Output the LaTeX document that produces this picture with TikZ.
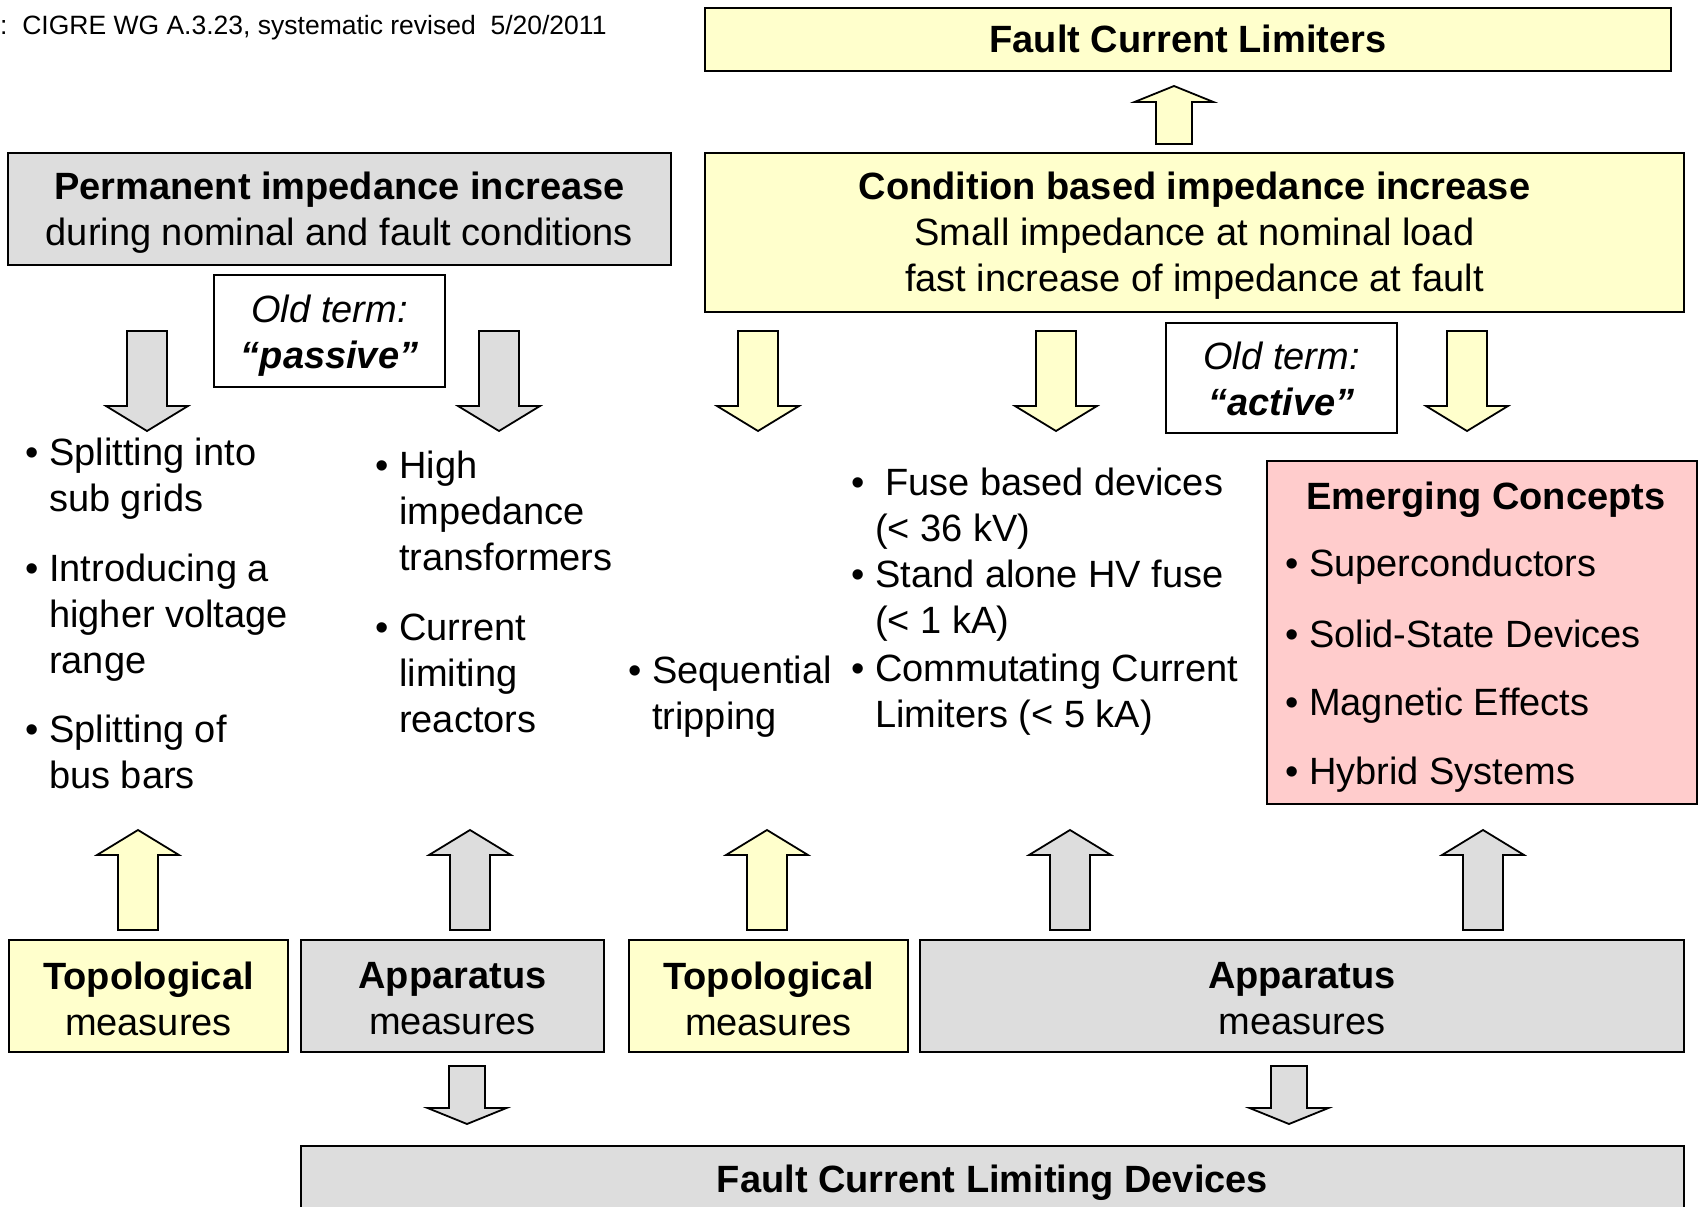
\documentclass[tikz,border=0pt]{standalone}
\usepackage{fontspec}
\setmainfont{Liberation Sans}
\usepackage{xcolor}

\definecolor{boxgray}{HTML}{DDDDDD}
\definecolor{boxyellow}{HTML}{FFFFCC}
\definecolor{boxpink}{HTML}{FFCCCC}

% bullet hanging into the left margin, and the matching indent
\newcommand{\bl}{\makebox[0pt]{•}\hspace*{17pt}}
\newcommand{\ind}{\hspace*{17pt}}

% fat block arrow: fill, x, start y, tip y, half shaft, half head, head length
\newcommand{\blockarrow}[7]{%
  \filldraw[arrowline, fill=#1] (#2-#5,#3) -- (#2+#5,#3) -- (#2+#5,{#4-(#7)})
    -- (#2+#6,{#4-(#7)}) -- (#2,#4) -- (#2-#6,{#4-(#7)}) -- (#2-#5,{#4-(#7)}) -- cycle;}

\tikzset{
  box/.style={draw=black, line width=1.8pt, inner sep=0pt},
  graybox/.style={box, fill=boxgray},
  yelbox/.style={box, fill=boxyellow},
  pinkbox/.style={box, fill=boxpink},
  termbox/.style={box, fill=white},
  boxtext/.style={inner sep=0pt, align=center},
  item/.style={anchor=west, inner sep=0pt, align=left},
  arrowline/.style={draw=black, line width=1.8pt}
}

\begin{document}
\begin{tikzpicture}[x=1pt, y=-1pt, font=\fontsize{38}{46}\selectfont]
    \useasboundingbox (0,0) rectangle (1698,1207);
    \clip (0,0) rectangle (1698,1207);

    \node[anchor=west, inner sep=0pt, font=\fontsize{26.5}{30}\selectfont] (src) at (0,28)
        {:\ \ CIGRE WG A.3.23, systematic revised\ \ 5/20/2011};

    % upper row
    \node[yelbox, minimum width=966pt, minimum height=63pt] (fcl) at (1188,39.5) {};
    \node[boxtext] (fcltext) at ([yshift=1pt]fcl.center) {\textbf{Fault Current Limiters}};
    \node[yelbox, minimum width=979pt, minimum height=159pt] (cond) at (1194.5,232.5) {};
    \node[boxtext] (condtext) at ([yshift=-3pt]cond.center)
        {\textbf{Condition based impedance increase}\\ Small impedance at nominal load\\ fast increase of impedance at fault};
    \node[graybox, minimum width=663pt, minimum height=112pt] (perm) at (339.5,209) {};
    \node[boxtext] (permtext) at ([yshift=-4pt]perm.center)
        {\textbf{Permanent impedance increase}\\ during nominal and fault conditions};
    \node[termbox, minimum width=231pt, minimum height=112pt] (passive) at (329.5,331) {};
    \node[boxtext] (passivetext) at ([yshift=-5pt]passive.center)
        {\textit{Old term:}\\ \textbf{\textit{“passive”}}};
    \node[termbox, minimum width=231pt, minimum height=110pt] (active) at (1281.5,378) {};
    \node[boxtext] (activetext) at ([yshift=-1pt]active.center)
        {\textit{Old term:}\\ \textbf{\textit{“active”}}};

    \blockarrow{boxyellow}{1174}{144}{86}{18}{39.5}{-16}
    \foreach \x in {147,499} \blockarrow{boxgray}{\x}{331}{431}{20}{41}{25};
    \foreach \x in {758,1056,1467} \blockarrow{boxyellow}{\x}{331}{431}{20}{41}{25};

    % measures
    \node[item] (subgrid) at (32,479) {\bl Splitting into\\ \ind sub grids};
    \node[item] (voltage) at (32,618) {\bl Introducing a\\ \ind higher voltage\\ \ind range};
    \node[item] (busbar) at (32,752) {\bl Splitting of\\ \ind bus bars};
    \node[item] (trafo) at (382,511) {\bl High\\ \ind impedance\\ \ind transformers};
    \node[item] (reactor) at (382,673) {\bl Current\\ \ind limiting\\ \ind reactors};
    \node[item] (seqtrip) at (635,697) {\bl Sequential\\ \ind tripping};
    \node[item] (fuse) at (858,509) {\bl\hspace*{10pt}Fuse based devices\\ \ind (< 36 kV)};
    \node[item] (hvfuse) at (858,601) {\bl Stand alone HV fuse\\ \ind (< 1 kA)};
    \node[item] (commut) at (858,695) {\bl Commutating Current\\ \ind Limiters (< 5 kA)};

    \node[pinkbox, minimum width=430pt, minimum height=343pt] (emerg) at (1482,632.5) {};
    \node[inner sep=0pt] (emtitle) at (1486,499.5) {\textbf{Emerging Concepts}};
    \node[item] (supra) at (1292,567) {\bl Superconductors};
    \node[item] (solid) at (1292,634) {\bl Solid-State Devices};
    \node[item] (magnet) at (1292,706) {\bl Magnetic Effects};
    \node[item] (hybrid) at (1292,775) {\bl Hybrid Systems};

    % lower row
    \blockarrow{boxyellow}{138}{930}{830}{20}{41}{-25}
    \blockarrow{boxgray}{470}{930}{830}{20}{41}{-25}
    \blockarrow{boxyellow}{767}{930}{830}{20}{41}{-25}
    \blockarrow{boxgray}{1070}{930}{830}{20}{41}{-25}
    \blockarrow{boxgray}{1483}{930}{830}{20}{41}{-25}

    \node[yelbox, minimum width=279pt, minimum height=112pt] (topo1) at (148.5,996) {};
    \node[boxtext] (topo1text) at ([yshift=-3pt]topo1.center) {\textbf{Topological}\\ measures};
    \node[graybox, minimum width=303pt, minimum height=112pt] (appa1) at (452.5,996) {};
    \node[boxtext] (appa1text) at ([yshift=-3pt]appa1.center) {\textbf{Apparatus}\\ measures};
    \node[yelbox, minimum width=279pt, minimum height=112pt] (topo2) at (768.5,996) {};
    \node[boxtext] (topo2text) at ([yshift=-3pt]topo2.center) {\textbf{Topological}\\ measures};
    \node[graybox, minimum width=764pt, minimum height=112pt] (appa2) at (1302,996) {};
    \node[boxtext] (appa2text) at ([yshift=-3pt]appa2.center) {\textbf{Apparatus}\\ measures};

    \blockarrow{boxgray}{467}{1066}{1124}{18}{39.5}{16}
    \blockarrow{boxgray}{1289}{1066}{1124}{18}{39.5}{16}

    \node[graybox, minimum width=1383pt, minimum height=70pt] (fcld) at (992.5,1181) {};
    \node[boxtext] (fcldtext) at (992.5,1183) {\textbf{Fault Current Limiting Devices}};
\end{tikzpicture}
\end{document}
